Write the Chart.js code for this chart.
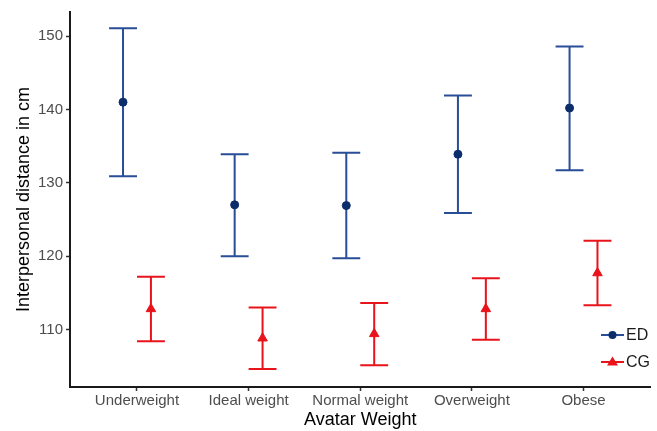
<!DOCTYPE html>
<html>
<head>
<meta charset="utf-8">
<script src="https://cdn.jsdelivr.net/npm/chart.js@4/dist/chart.umd.min.js"></script>
<style>
    html, body { margin: 0; padding: 0; background: #fff; }
    #wrap { width: 657px; height: 431px; position: relative; }
</style>
</head>
<body>
<div id="wrap"><canvas id="chart"></canvas></div>
<script>
// Avatar weight categories and tick labels
const categories = ['Underweight', 'Ideal weight', 'Normal weight', 'Overweight', 'Obese'];
const yTicks = [110, 120, 130, 140, 150];

// ED group: means and error bar limits
const edMean  = [141.0, 127.0, 126.9, 133.9, 140.2];
const edUpper = [151.1, 133.9, 134.1, 141.9, 148.6];
const edLower = [130.9, 120.0, 119.7, 125.9, 131.7];

// CG group: means and error bar limits
const cgMean  = [112.8, 108.8, 109.4, 112.8, 117.7];
const cgUpper = [117.2, 113.0, 113.6, 117.0, 122.1];
const cgLower = [108.4, 104.6, 105.1, 108.6, 113.3];

const edLine = '#2a4d97';
const edPoint = '#0c2d6b';
const cgColor = '#e8131b';
const dodge = 0.125;
const fontFamily = '"Liberation Sans", Arial, sans-serif';

function toPoints(values, shift) {
    return values.map((v, i) => ({ x: i + 1 + shift, y: v }));
}

// draws the error bars with caps using the chart scales
const errorBars = {
    id: 'errorBars',
    beforeDatasetsDraw(chart) {
        const ctx = chart.ctx;
        const xs = chart.scales.x;
        const ys = chart.scales.y;
        const groups = [
            { upper: edUpper, lower: edLower, shift: -dodge, color: edLine },
            { upper: cgUpper, lower: cgLower, shift: dodge, color: cgColor }
        ];
        ctx.save();
        ctx.lineWidth = 2;
        groups.forEach(g => {
            ctx.strokeStyle = g.color;
            g.upper.forEach((up, i) => {
                const cx = i + 1 + g.shift;
                const x = xs.getPixelForValue(cx);
                const x0 = xs.getPixelForValue(cx - 0.125);
                const x1 = xs.getPixelForValue(cx + 0.125);
                const yTop = ys.getPixelForValue(up);
                const yBot = ys.getPixelForValue(g.lower[i]);
                ctx.beginPath();
                ctx.moveTo(x, yTop);
                ctx.lineTo(x, yBot);
                ctx.moveTo(x0, yTop);
                ctx.lineTo(x1, yTop);
                ctx.moveTo(x0, yBot);
                ctx.lineTo(x1, yBot);
                ctx.stroke();
            });
        });
        ctx.restore();
    }
};

// legend inside the plot, bottom right
const insideLegend = {
    id: 'insideLegend',
    afterDraw(chart) {
        const ctx = chart.ctx;
        const items = [
            { label: 'ED', line: edLine, fill: edPoint, style: 'circle', y: 335 },
            { label: 'CG', line: cgColor, fill: cgColor, style: 'triangle', y: 362 }
        ];
        ctx.save();
        ctx.font = '16px ' + fontFamily;
        ctx.textBaseline = 'middle';
        items.forEach(it => {
            ctx.strokeStyle = it.line;
            ctx.lineWidth = 2;
            ctx.beginPath();
            ctx.moveTo(601, it.y);
            ctx.lineTo(624, it.y);
            ctx.stroke();
            ctx.fillStyle = it.fill;
            ctx.beginPath();
            if (it.style === 'circle') {
                ctx.arc(612.5, it.y, 4, 0, Math.PI * 2);
            } else {
                ctx.moveTo(612.5, it.y - 5.5);
                ctx.lineTo(618, it.y + 3.5);
                ctx.lineTo(607, it.y + 3.5);
                ctx.closePath();
            }
            ctx.fill();
            ctx.fillStyle = '#1a1a1a';
            ctx.fillText(it.label, 626, it.y + 1);
        });
        ctx.restore();
    }
};

const ctx = document.getElementById('chart');
new Chart(ctx, {
    type: 'scatter',
    data: {
        datasets: [{
            label: 'ED',
            data: toPoints(edMean, -dodge),
            backgroundColor: edPoint,
            borderColor: edPoint,
            pointStyle: 'circle',
            pointRadius: 4,
            pointHoverRadius: 4
        }, {
            label: 'CG',
            data: toPoints(cgMean, dodge),
            backgroundColor: cgColor,
            borderColor: cgColor,
            pointStyle: 'triangle',
            pointRadius: 5.5,
            pointHoverRadius: 5.5
        }]
    },
    options: {
        responsive: true,
        maintainAspectRatio: false,
        animation: false,
        layout: { padding: { top: 12, right: 4, left: 0, bottom: 0 } },
        plugins: {
            legend: { display: false },
            tooltip: { enabled: false }
        },
        scales: {
            x: {
                type: 'linear',
                min: 0.4,
                max: 5.6,
                afterBuildTicks(axis) {
                    axis.ticks = categories.map((c, i) => ({ value: i + 1 }));
                },
                afterFit(axis) { axis.height = 44; },
                grid: {
                    display: true,
                    drawOnChartArea: false,
                    drawTicks: true,
                    tickLength: 4,
                    tickColor: '#333',
                    tickWidth: 1.5
                },
                border: { display: true, color: '#1a1a1a', width: 2 },
                ticks: {
                    color: '#4d4d4d',
                    padding: 1,
                    autoSkip: false,
                    maxRotation: 0,
                    font: { family: fontFamily, size: 15 },
                    callback: (v) => categories[Math.round(v) - 1]
                },
                title: {
                    display: true,
                    text: 'Avatar Weight',
                    color: '#000',
                    padding: { top: 0, bottom: 0 },
                    font: { family: fontFamily, size: 18 }
                }
            },
            y: {
                min: 102.15,
                max: 153.3,
                afterBuildTicks(axis) {
                    axis.ticks = yTicks.map(v => ({ value: v }));
                },
                afterFit(axis) { axis.width = 70; },
                grid: {
                    display: true,
                    drawOnChartArea: false,
                    drawTicks: true,
                    tickLength: 4,
                    tickColor: '#333',
                    tickWidth: 1.5
                },
                border: { display: true, color: '#1a1a1a', width: 2 },
                ticks: {
                    color: '#4d4d4d',
                    padding: 3,
                    font: { family: fontFamily, size: 15 }
                },
                title: {
                    display: true,
                    text: 'Interpersonal distance in cm',
                    color: '#000',
                    padding: { top: 13, bottom: 0 },
                    font: { family: fontFamily, size: 18 }
                }
            }
        }
    },
    plugins: [errorBars, insideLegend]
});
</script>
</body>
</html>
